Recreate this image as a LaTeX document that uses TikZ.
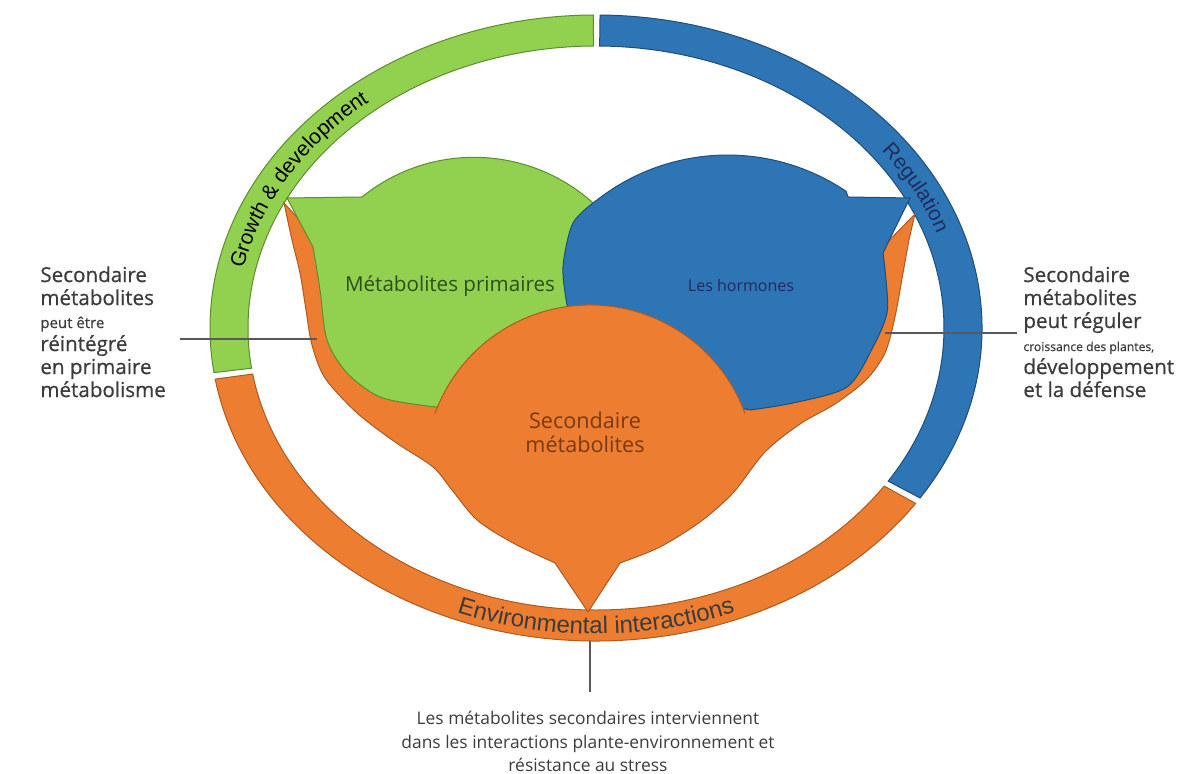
\documentclass[tikz,border=0pt]{standalone}
\usepackage{fontspec}
\setmainfont{Open Sans}
\newfontfamily\ringfont{Liberation Sans}
\newfontfamily\cotefont{Open Sans}[FakeBold=0.6]
\usetikzlibrary{decorations.text}
\definecolor{vertF}{HTML}{92D050}
\definecolor{vertT}{HTML}{5E8C2E}
\definecolor{vertTexte}{HTML}{2D5016}
\definecolor{bleuF}{HTML}{2E75B6}
\definecolor{bleuT}{HTML}{1F4E79}
\definecolor{bleuTexte}{HTML}{1F2D5C}
\definecolor{orangeF}{HTML}{ED7D31}
\definecolor{orangeT}{HTML}{AE5A21}
\definecolor{orangeTexte}{HTML}{7B3A10}
\definecolor{grisT}{HTML}{3C3C3C}
\begin{document}
\begin{tikzpicture}[x=0.5pt,y=0.5pt,
  vert/.style={fill=vertF,draw=vertT,line width=0.5pt},
  bleu/.style={fill=bleuF,draw=bleuT,line width=0.5pt},
  orange/.style={fill=orangeF,draw=orangeT,line width=0.5pt},
  cote/.style={font=\cotefont\fontsize{10.3}{11.5}\selectfont,text=grisT,align=left,inner sep=0pt},
  renvoi/.style={draw=grisT!85,line width=0.7pt}]
\useasboundingbox (0,0) rectangle (1200,774);
% anneau exterieur
\begin{scope}[shift={(596,446)}]
\filldraw[vert] (90.4:386 and 313) arc[start angle=90.4,end angle=188.2,x radius=386,y radius=313]
  -- (188.2:348 and 282) arc[start angle=188.2,end angle=90.4,x radius=348,y radius=282] -- cycle;
\filldraw[orange] (189.4:386 and 313) arc[start angle=189.4,end angle=325.9,x radius=386,y radius=313]
  -- (325.9:348 and 282) arc[start angle=325.9,end angle=189.4,x radius=348,y radius=282] -- cycle;
\filldraw[bleu] (327.1:386 and 313) arc[start angle=327.1,end angle=449.4,x radius=386,y radius=313]
  -- (449.4:348 and 282) arc[start angle=449.4,end angle=327.1,x radius=348,y radius=282] -- cycle;
\path[decorate,decoration={text along path,text align=center,
  text={|\ringfont\fontsize{10.5}{12}\selectfont\color{black}|Growth {\&} development}}]
  (180:360 and 291) arc[start angle=180,end angle=119,x radius=360,y radius=291];
\path[decorate,decoration={text along path,text align=center,
  text={|\ringfont\fontsize{10.5}{12}\selectfont\color{bleuTexte}|Regulation}}]
  (50:360 and 291) arc[start angle=50,end angle=5,x radius=360,y radius=291];
\path[decorate,decoration={text along path,text align=center,
  text={|\ringfont\fontsize{12}{14}\selectfont\color{grisT}|Environmental interactions}}]
  (230:376 and 306) arc[start angle=230,end angle=310,x radius=376,y radius=306];
\end{scope}
% coupe orange
\filldraw[orange] plot[smooth] coordinates {(284,571) (292,534) (300,501) (306,464) (312,429) (325,396)
  (357,361) (395,332) (433,307) (452,284) (477,254) (513,231) (555,211)} -- (588,162) -- (620,211)
  -- plot[smooth] coordinates {(620,211) (660,227) (700,252) (733,281) (765,322) (800,350) (835,370)
  (866,394) (885,421) (895,457) (903,501) (909,534) (915,560)}
  -- (870,514) -- (750,474) -- (590,394) -- (420,474) -- (318,534) -- cycle;
% metabolites primaires
\filldraw[vert] (287,576) -- (362,577) arc[start angle=129,end angle=-10,radius=178] -- (600,382) -- (446,367)
  -- plot[smooth] coordinates {(446,367) (427,368) (380,377) (347,401) (327,434) (320,484) (313,527)} -- cycle;
% hormones
\filldraw[bleu] (910,576) -- (883,521)
  -- plot[smooth] coordinates {(883,521) (886,494) (887,461) (873,427) (847,387) (793,371) (750,364)}
  -- (700,374) -- (580,444)
  -- plot[smooth] coordinates {(567,469) (563,507) (573,551) (597,574)}
  arc[start angle=128,end angle=56,radius=212] -- (848,577) -- cycle;
% metabolites secondaires
\coordinate (centreS) at (590,304);
\fill[orangeF] (centreS) ++(20:165) arc[start angle=20,end angle=160,radius=165] -- cycle;
\draw[orangeT,line width=0.5pt] (centreS) ++(20:165) arc[start angle=20,end angle=160,radius=165];
\node[anchor=base,font=\fontsize{10.3}{12}\selectfont,text=vertTexte] (primaires) at (450,482) {Métabolites primaires};
\node[anchor=base,font=\fontsize{8}{10}\selectfont,text=bleuTexte] (hormones) at (741,482) {Les hormones};
\node[anchor=north,align=center,font=\fontsize{10.8}{12}\selectfont,text=orangeTexte,inner sep=0pt] (secondaires) at (585,362)
  {Secondaire\\métabolites};
% textes de cote
\node[cote,anchor=north west] (gauche) at (40,508)
  {Secondaire\\métabolites\\{\fontsize{7.5}{11.5}\selectfont peut être}\\réintégré\\en primaire\\métabolisme};
\node[cote,anchor=north west] (droite) at (1023,508)
  {Secondaire\\métabolites\\peut réguler\\{\fontsize{6.1}{11.5}\selectfont croissance des plantes,}\\développement\\et la défense};
\node[anchor=north,align=center,font=\fontsize{8.7}{11.75}\selectfont,text=grisT,inner sep=0pt] (bas) at (588,63)
  {Les métabolites secondaires interviennent\\dans les interactions plante-environnement et\\résistance au stress};
\coordinate (gaucheA) at (180,435);
\coordinate (gaucheB) at (317,435);
\coordinate (droiteA) at (885,441);
\coordinate (droiteB) at (1017,441);
\coordinate (basA) at (590,133);
\coordinate (basB) at (590,82);
\draw[renvoi] (gaucheA) -- (gaucheB);
\draw[renvoi] (droiteA) -- (droiteB);
\draw[renvoi] (basA) -- (basB);
\end{tikzpicture}
\end{document}
